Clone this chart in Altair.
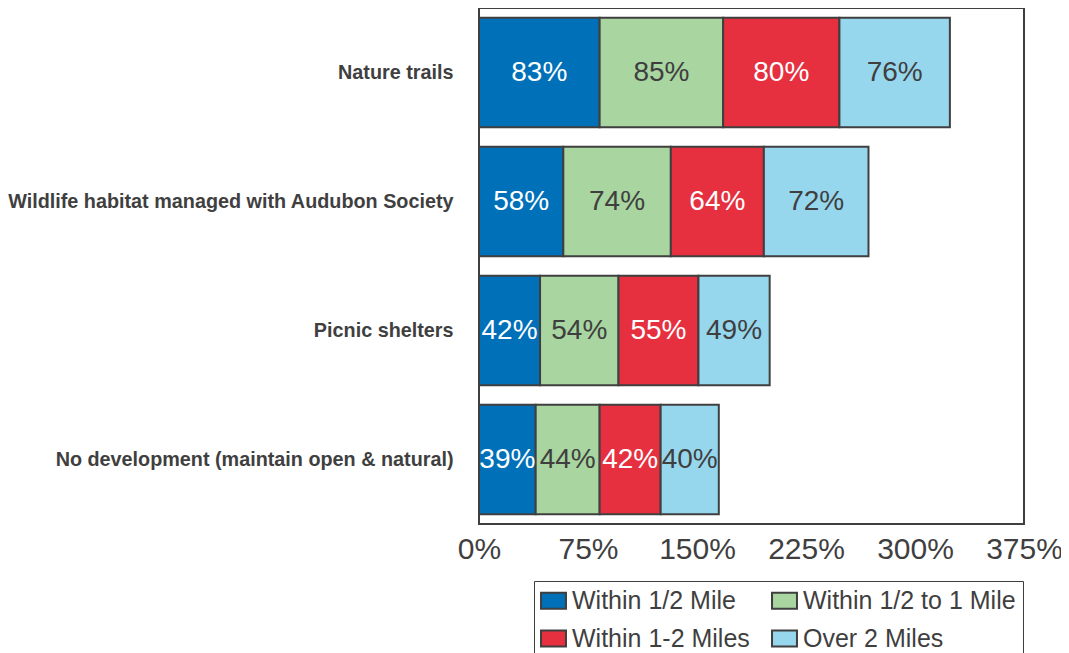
import altair as alt
import pandas as pd

items = ["Nature trails", "Wildlife habitat managed with Audubon Society",
         "Picnic shelters", "No development (maintain open & natural)"]
series = ["Within 1/2 Mile", "Within 1/2 to 1 Mile", "Within 1-2 Miles", "Over 2 Miles"]
colors = ["#0070B8", "#A8D5A0", "#E6303F", "#96D7EE"]
within_half = [83, 58, 42, 39]
half_to_one = [85, 74, 54, 44]
one_to_two = [80, 64, 55, 42]
over_two = [76, 72, 49, 40]
x_ticks = [0, 75, 150, 225, 300, 375]

vals = [within_half, half_to_one, one_to_two, over_two]
rows = []
for si, s in enumerate(series):
    for ii, it in enumerate(items):
        rows.append({"item": it, "series": s, "order": si, "value": vals[si][ii]})
df = pd.DataFrame(rows)

DARK = "#3F3F3F"
FONT = "Liberation Sans"

base = alt.Chart(df).transform_stack(
    stack="value", as_=["x0", "x1"], groupby=["item"],
    sort=[alt.SortField("order", order="ascending")]
).transform_calculate(mid="(datum.x0 + datum.x1) / 2", lab="datum.value + '%'")

yenc = alt.Y("item:N", sort=items, title=None,
             scale=alt.Scale(paddingInner=0.15, paddingOuter=0.075),
             axis=alt.Axis(labelFont=FONT, labelFontWeight="bold", labelFontSize=19.8,
                           labelColor=DARK, ticks=False, domain=False, labelPadding=26,
                           labelLimit=0))

bars = base.mark_bar(stroke=DARK, strokeWidth=2).encode(
    y=yenc,
    x=alt.X("x0:Q", title=None,
            scale=alt.Scale(domain=[0, 375], nice=False, zero=True),
            axis=alt.Axis(values=x_ticks, labelExpr="datum.value + '%'", grid=False,
                          ticks=False, domain=False, labelFont=FONT, labelFontSize=30,
                          labelColor=DARK, labelPadding=10, labelFlush=False)),
    x2="x1:Q",
    color=alt.Color("series:N", sort=series,
                    scale=alt.Scale(domain=series, range=colors),
                    legend=alt.Legend(orient="none", legendX=55, legendY=573, columns=2,
                                      direction="horizontal",
                                      title=None, labelFont=FONT, labelFontSize=25,
                                      labelColor=DARK, strokeColor=DARK, padding=7,
                                      symbolType="M-1.56,-1H1.56V1H-1.56Z", symbolSize=256,
                                      symbolStrokeColor=DARK, symbolStrokeWidth=2,
                                      symbolOpacity=1, labelOffset=6, rowPadding=12,
                                      columnPadding=18, labelLimit=0)),
)

labels = base.mark_text(font=FONT, fontSize=28).encode(
    y=alt.Y("item:N", sort=items),
    x=alt.X("mid:Q"),
    text=alt.Text("lab:N"),
    color=alt.condition(
        "datum.series == 'Within 1/2 Mile' || datum.series == 'Within 1-2 Miles'",
        alt.value("white"), alt.value(DARK)),
)

chart = alt.layer(bars, labels).properties(
    width=545, height=516,
    autosize=alt.AutoSizeParams(type="none"),
    padding={"left": 471, "top": 0, "right": 37, "bottom": 129},
).configure(background="white").configure_view(stroke=DARK, strokeWidth=2)

chart.save("out.html", embed_options={"renderer": "svg", "actions": False})
